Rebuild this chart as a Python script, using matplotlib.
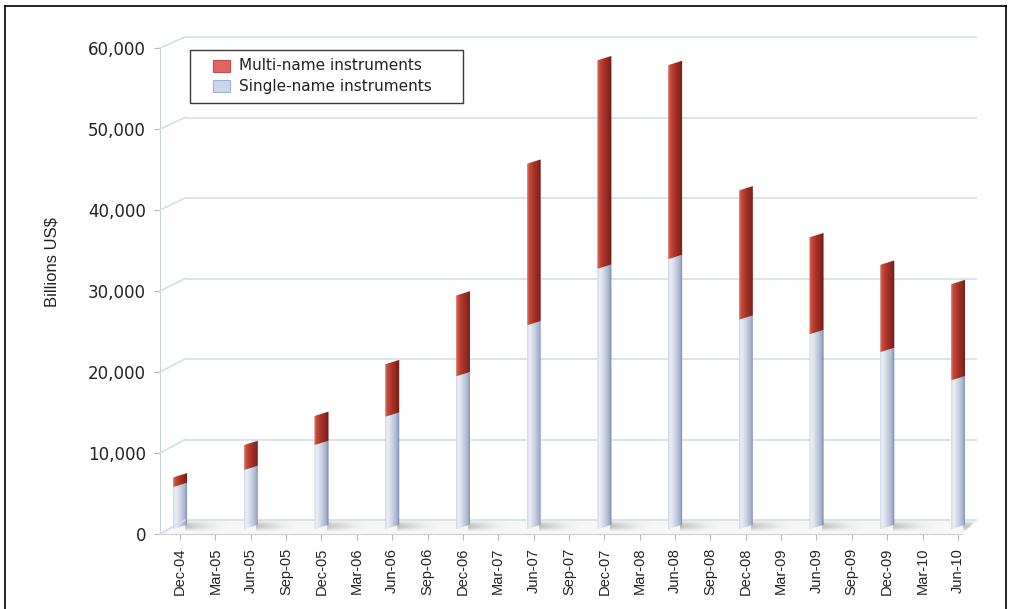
import numpy as np
import matplotlib.pyplot as plt
from matplotlib.colors import LinearSegmentedColormap
from matplotlib.patches import Polygon, Rectangle
from matplotlib.lines import Line2D

W, H = 1012, 609

quarters = ["Dec-04", "Mar-05", "Jun-05", "Sep-05", "Dec-05", "Mar-06",
            "Jun-06", "Sep-06", "Dec-06", "Mar-07", "Jun-07", "Sep-07",
            "Dec-07", "Mar-08", "Jun-08", "Sep-08", "Dec-08", "Mar-09",
            "Jun-09", "Sep-09", "Dec-09", "Mar-10", "Jun-10"]
bar_dates = ["Dec-04", "Jun-05", "Dec-05", "Jun-06", "Dec-06", "Jun-07",
             "Dec-07", "Jun-08", "Dec-08", "Jun-09", "Dec-09", "Jun-10"]
single_name = [5200, 7300, 10400, 13900, 18900, 25200,
               32200, 33400, 25900, 24100, 21900, 18400]
multi_name = [1200, 3100, 3600, 6500, 10000, 20000,
              25800, 24000, 16000, 12000, 10800, 11900]
y_ticks = list(range(0, 60001, 10000))

# horizontal layout: pixel of the first quarter and spacing per quarter
X0, XSTEP = 180, 35.36
VMAX = 60000

fig = plt.figure(figsize=(W / 100, H / 100), dpi=100)


def px_axes(left, right, top, bottom, y_zero, y_top):
    """axes placed by pixel box, y scaled so 0 -> y_zero px, VMAX -> y_top px"""
    ax = fig.add_axes([left / W, 1 - bottom / H, (right - left) / W, (bottom - top) / H])
    per_px = VMAX / (y_zero - y_top)
    lims = ((left - X0) / XSTEP, (right - X0) / XSTEP,
            (y_zero - bottom) * per_px, (y_zero - top) * per_px)
    ax.patch.set_visible(False)
    return ax, lims, per_px


def fix(ax, lims):
    ax.set_xlim(lims[0], lims[1])
    ax.set_ylim(lims[2], lims[3])


def xpx(p):
    return (p - X0) / XSTEP


# ---------- back wall and floor ----------
wall, wall_lims, wall_pp = px_axes(150, 995, 25, 548, 520, 37)
wall.axis("off")
wall.hlines(y_ticks, xpx(185), xpx(977), color="#d4dfe3", lw=1.2, zorder=1)
floor_front = -(534 - 520) * wall_pp
wall.add_patch(Polygon([(xpx(160), floor_front), (xpx(962), floor_front),
                        (xpx(977), 0), (xpx(185), 0)],
                       closed=True, facecolor="#f7f7f7", edgecolor="none", zorder=0))
fix(wall, wall_lims)

# ---------- bars ----------
bars, bar_lims, bar_pp = px_axes(150, 995, 25, 548, 527, 42)
bars.axis("off")

red_cmap = LinearSegmentedColormap.from_list(
    "multi", [(0, "#e29488"), (0.12, "#c9503f"), (0.45, "#ab3226"),
              (0.8, "#88261e"), (1, "#661b16")])
blue_cmap = LinearSegmentedColormap.from_list(
    "single", [(0, "#d3dae8"), (0.18, "#eceff6"), (0.5, "#cad2e3"),
               (0.8, "#a7b3cb"), (0.9, "#8c9dbe"), (1, "#5a7db0")])
grad = np.linspace(0, 1, 64)[None, :]

width = 0.4
slant = 2.2 * bar_pp


def shaded_segment(x, lo, hi, cmap):
    x0, x1 = x - width / 2, x + width / 2
    poly = Polygon([(x0, lo - slant), (x1, lo + slant), (x1, hi + slant), (x0, hi - slant)],
                   closed=True, facecolor="none", edgecolor="none", transform=bars.transData)
    bars.add_patch(poly)
    im = bars.imshow(grad, cmap=cmap, aspect="auto", interpolation="bilinear",
                     extent=(x0, x1, lo - slant, hi + slant), zorder=3)
    im.set_clip_path(poly)


# soft floor shadows beside each bar base, kept inside the floor
floor_clip = Polygon([(xpx(160), -7 * bar_pp), (xpx(962), -7 * bar_pp),
                      (xpx(977), 7 * bar_pp), (xpx(185), 7 * bar_pp)],
                     closed=True, facecolor="none", edgecolor="none", transform=bars.transData)
bars.add_patch(floor_clip)

u = np.linspace(0, 1, 80)[None, :]
v = np.linspace(0, 1, 20)[:, None]
shadow = np.zeros((20, 80, 4))
shadow[..., :3] = 0.45
shadow[..., 3] = 0.42 * (1 - u) ** 1.6 * np.sin(np.pi * v) ** 1.2

for date, s_val, m_val in zip(bar_dates, single_name, multi_name):
    x = quarters.index(date)
    sh = bars.imshow(shadow, aspect="auto", interpolation="bilinear",
                     extent=(x + width / 2 - 0.05, x + 1.4, -5 * bar_pp, 7 * bar_pp), zorder=2)
    sh.set_clip_path(floor_clip)
    shaded_segment(x, 0, s_val, blue_cmap)
    shaded_segment(x, s_val, s_val + m_val, red_cmap)

fix(bars, bar_lims)

# ---------- front axis with ticks ----------
front = fig.add_axes([160 / W, 1 - 534 / H, (990 - 160) / W, (534 - 48) / H])
front.patch.set_visible(False)
front.set_xlim(xpx(160), xpx(990))
front.set_ylim(0, VMAX)
for side in ["top", "right"]:
    front.spines[side].set_visible(False)
front.spines["left"].set_color("#c9d2d5")
front.spines["bottom"].set_color("#d2cccc")
front.spines["bottom"].set_bounds(xpx(160), xpx(962))

front.set_yticks(y_ticks)
front.set_yticklabels([f"{t:,}" for t in y_ticks])
front.tick_params(axis="y", length=4, color="#b8b8b8", pad=6,
                  labelsize=12, labelcolor="#222222")
front.set_xticks(range(len(quarters)))
front.set_xticklabels(quarters, rotation=90, fontsize=10.5, color="#222222",
                      family="Liberation Sans")
front.tick_params(axis="x", length=4, color="#b8b8b8", pad=6)

# slanted links from the front ticks to the back wall grid
to_fig = fig.transFigure.inverted()
for t in y_ticks:
    a = to_fig.transform(front.transData.transform((xpx(160), t)))
    b = to_fig.transform(wall.transData.transform((xpx(185), t)))
    fig.add_artist(Line2D([a[0], b[0]], [a[1], b[1]], color="#d4dfe3", lw=1.2))

fig.text(52 / W, 1 - 262 / H, "Billions US$", rotation=90, ha="center", va="center",
         family="Liberation Sans", fontsize=12, color="#222222")

# ---------- legend ----------
fig.add_artist(Rectangle((190 / W, 1 - 103 / H), 273 / W, 53 / H, transform=fig.transFigure,
                         facecolor="white", edgecolor="#3a3a3a", lw=1, zorder=5))
legend_items = [("Multi-name instruments", "#e06461", "#c24c49", 66),
                ("Single-name instruments", "#cbd8ec", "#9eb0cc", 86)]
for label, face, edge, yc in legend_items:
    fig.add_artist(Rectangle((213 / W, 1 - (yc + 6) / H), 17 / W, 12 / H,
                             transform=fig.transFigure, facecolor=face,
                             edgecolor=edge, lw=0.8, zorder=6))
    fig.text(239 / W, 1 - yc / H, label, ha="left", va="center", fontsize=11,
             color="#222222", zorder=6)

# outer frame
for xs, ys in [([5, 5], [609, 6]), ([5, 1006], [6, 6]), ([1006, 1006], [6, 609])]:
    fig.add_artist(Line2D([x / W for x in xs], [1 - y / H for y in ys],
                          color="black", lw=1.2))

fig.savefig("out.png", dpi=100)
